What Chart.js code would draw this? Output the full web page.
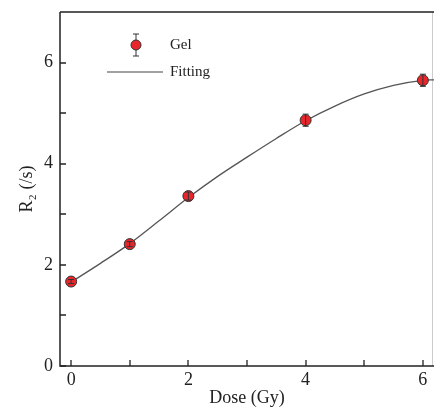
<!DOCTYPE html>
<html>
<head>
<meta charset="utf-8">
<script src="https://cdn.jsdelivr.net/npm/chart.js@4"></script>
<style>
  html, body { margin: 0; padding: 0; background: #fff; }
  #wrap { width: 434px; height: 407px; }
</style>
</head>
<body>
<div id="wrap"><canvas id="chart" width="434" height="407"></canvas></div>
<script>
const dose = [0, 1, 2, 4, 6];
const r2 = [1.67, 2.41, 3.36, 4.86, 5.65];
const r2_err = [0.04, 0.05, 0.08, 0.12, 0.12];

const fit_x = [0, 0.5, 1, 1.5, 2, 2.5, 3, 3.5, 4, 4.5, 5, 5.5, 6, 6.2];
const fit_y = [1.66, 2.03, 2.42, 2.87, 3.33, 3.75, 4.13, 4.50, 4.85, 5.14, 5.38, 5.55, 5.65, 5.66];

const x_ticks = [0, 1, 2, 3, 4, 5, 6];
const y_ticks = [0, 1, 2, 3, 4, 5, 6];
const x_labels = [0, 2, 4, 6];
const y_labels = [0, 2, 4, 6];

const serif = '"Liberation Serif", "DejaVu Serif", serif';
const red = '#e8262b';

// frame, inward ticks, error bars and legend
const extras = {
    id: 'extras',
    beforeDatasetsDraw(chart) {
        const ctx = chart.ctx;
        const a = chart.chartArea;
        const xs = chart.scales.x, ys = chart.scales.y;
        ctx.save();
        ctx.strokeStyle = '#ccc';
        ctx.lineWidth = 1;
        ctx.beginPath();
        ctx.moveTo(a.right - 1.5, a.top);
        ctx.lineTo(a.right - 1.5, a.bottom);
        ctx.stroke();
        ctx.strokeStyle = '#222';
        ctx.lineWidth = 1.5;
        ctx.beginPath();
        ctx.moveTo(a.left, a.top);
        ctx.lineTo(a.right, a.top);
        ctx.moveTo(a.left, a.top);
        ctx.lineTo(a.left, a.bottom);
        ctx.lineTo(a.right, a.bottom);
        ctx.stroke();
        ctx.lineWidth = 1.3;
        ctx.beginPath();
        x_ticks.forEach(v => {
            const px = Math.round(xs.getPixelForValue(v));
            ctx.moveTo(px, a.bottom);
            ctx.lineTo(px, a.bottom - 6);
        });
        y_ticks.forEach(v => {
            const py = Math.round(ys.getPixelForValue(v));
            ctx.moveTo(a.left, py);
            ctx.lineTo(a.left + 6, py);
        });
        ctx.stroke();
        ctx.restore();
    },
    afterDatasetsDraw(chart) {
        const ctx = chart.ctx;
        const xs = chart.scales.x, ys = chart.scales.y;
        ctx.save();
        ctx.strokeStyle = '#333';
        ctx.lineWidth = 1;
        dose.forEach((d, i) => {
            const px = xs.getPixelForValue(d);
            const top = ys.getPixelForValue(r2[i] + r2_err[i]);
            const bot = ys.getPixelForValue(r2[i] - r2_err[i]);
            ctx.beginPath();
            ctx.moveTo(px, top); ctx.lineTo(px, bot);
            ctx.moveTo(px - 3, top); ctx.lineTo(px + 3, top);
            ctx.moveTo(px - 3, bot); ctx.lineTo(px + 3, bot);
            ctx.stroke();
        });

        // legend
        const lx = 136, ly = 45;
        ctx.beginPath();
        ctx.moveTo(lx, ly - 11); ctx.lineTo(lx, ly + 11);
        ctx.moveTo(lx - 3, ly - 11); ctx.lineTo(lx + 3, ly - 11);
        ctx.moveTo(lx - 3, ly + 11); ctx.lineTo(lx + 3, ly + 11);
        ctx.stroke();
        ctx.beginPath();
        ctx.arc(lx, ly, 5, 0, Math.PI * 2);
        ctx.fillStyle = red;
        ctx.fill();
        ctx.strokeStyle = '#333';
        ctx.stroke();
        ctx.strokeStyle = '#444';
        ctx.lineWidth = 1.2;
        ctx.beginPath();
        ctx.moveTo(107, 72); ctx.lineTo(163, 72);
        ctx.stroke();
        ctx.fillStyle = '#222';
        ctx.font = '15px ' + serif;
        ctx.textBaseline = 'middle';
        ctx.fillText('Gel', 170, ly);
        ctx.fillText('Fitting', 170, 72);
        ctx.restore();
    }
};

const chart_config = {
    type: 'scatter',
    data: {
        datasets: [{
            type: 'line',
            label: 'Fitting',
            data: fit_x.map((x, i) => ({x: x, y: fit_y[i]})),
            borderColor: '#555',
            borderWidth: 1.3,
            pointRadius: 0,
            cubicInterpolationMode: 'monotone',
            fill: false,
            clip: false,
            order: 2
        }, {
            label: 'Gel',
            data: dose.map((x, i) => ({x: x, y: r2[i]})),
            backgroundColor: red,
            borderColor: '#333',
            borderWidth: 1,
            pointRadius: 5.5,
            clip: false,
            order: 1
        }]
    },
    options: {
        responsive: false,
        animation: false,
        layout: {
            autoPadding: false,
            padding: { top: 12, right: 0, left: 0, bottom: 0 }
        },
        scales: {
            x: {
                type: 'linear',
                min: -0.19,
                max: 6.19,
                afterFit(scale) {
                    scale.height = 41;
                    scale.paddingLeft = 0;
                    scale.paddingRight = 0;
                },
                afterBuildTicks(scale) { scale.ticks = x_labels.map(v => ({value: v})); },
                grid: { display: false, drawTicks: false },
                border: { display: false },
                ticks: {
                    color: '#222',
                    padding: 3,
                    font: { family: serif, size: 18 }
                },
                title: {
                    display: true,
                    text: 'Dose (Gy)',
                    color: '#222',
                    padding: 0,
                    font: { family: serif, size: 18, lineHeight: 1 }
                }
            },
            y: {
                min: 0,
                max: 7,
                afterFit(scale) {
                    scale.width = 60;
                    scale.paddingTop = 0;
                    scale.paddingBottom = 0;
                },
                afterBuildTicks(scale) { scale.ticks = y_labels.map(v => ({value: v})); },
                grid: { display: false, drawTicks: false },
                border: { display: false },
                ticks: {
                    color: '#222',
                    padding: 7,
                    font: { family: serif, size: 18 }
                },
                title: {
                    display: true,
                    text: 'R\u2082 (/s)',
                    color: '#222',
                    padding: { top: 18, bottom: 0 },
                    font: { family: serif, size: 18, lineHeight: 1 }
                }
            }
        },
        plugins: {
            legend: { display: false },
            tooltip: { enabled: false }
        }
    },
    plugins: [extras]
};

var chart = new Chart(
    document.getElementById('chart'),
    chart_config
);
</script>
</body>
</html>
